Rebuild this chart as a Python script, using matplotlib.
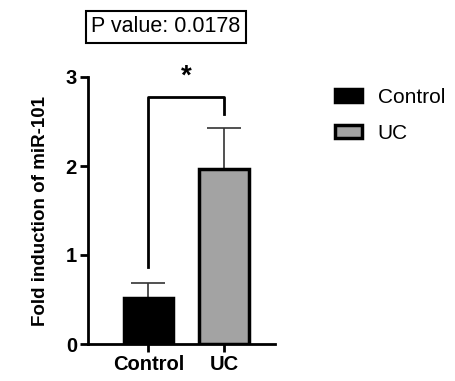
import matplotlib
matplotlib.use("Agg")
import matplotlib.pyplot as plt
from matplotlib.patches import Patch

plt.rcParams['font.family'] = ['Liberation Sans', 'DejaVu Sans']

categories = ["Control", "UC"]
means = [0.52, 1.97]
errors = [0.17, 0.46]
colors = ["#000000", "#a3a3a3"]
yticks = [0, 1, 2, 3]
p_text = "P value: 0.0178"
bracket_left_y = 0.87
bracket_top_y = 2.78
bracket_right_y = 2.58
star_y = 2.86

fig = plt.figure(figsize=(4.55, 3.81), dpi=100)
ax = fig.add_axes([88/455, 1-344/381, (275-88)/455, (344-77)/381])

x = list(range(len(categories)))
ax.bar(x, means, width=0.66, color=colors, edgecolor="black", linewidth=2.5, zorder=2)
for xi, m, e in zip(x, means, errors):
    ax.errorbar([xi], [m], yerr=[[0], [e]], fmt="none", ecolor="#333333",
                elinewidth=1.2, capsize=12, capthick=1.2, zorder=1)

ax.set_xlim(-0.8, 1.675)
ax.set_ylim(0, 3)
ax.set_yticks(yticks)
ax.set_xticks(x)
ax.set_xticklabels(categories, fontsize=14.5, fontweight="bold")
ax.set_yticklabels([str(t) for t in yticks], fontsize=14.5, fontweight="bold")
ax.spines["top"].set_visible(False)
ax.spines["right"].set_visible(False)
ax.spines["left"].set_linewidth(2)
ax.spines["bottom"].set_linewidth(2)
ax.tick_params(axis="both", width=2, length=6, pad=2)
ax.set_ylabel("Fold induction of miR-101", fontsize=13.5, fontweight="bold", labelpad=12)

# significance bracket
ax.plot([0, 0, 1, 1], [bracket_left_y, bracket_top_y, bracket_top_y, bracket_right_y],
        color="black", linewidth=2, clip_on=False, zorder=3)
ax.text(0.5, star_y, "*", ha="center", va="bottom", fontsize=20, fontweight="bold",
        clip_on=False)

fig.text(166/455, 1-27/381, p_text, ha="center", va="center", fontsize=15.5,
         bbox=dict(boxstyle="square,pad=0.25", facecolor="white", edgecolor="black", linewidth=1.5))

handles = [Patch(facecolor=c, edgecolor="black", linewidth=2.5) for c in colors]
fig.legend(handles, categories, loc="upper left", bbox_to_anchor=(335/455, 1-88/381),
           frameon=False, fontsize=15, handlelength=1.3, handleheight=0.6,
           labelspacing=0.8, handletextpad=0.75, borderpad=0, borderaxespad=0)

fig.savefig("out.png", dpi=100)
